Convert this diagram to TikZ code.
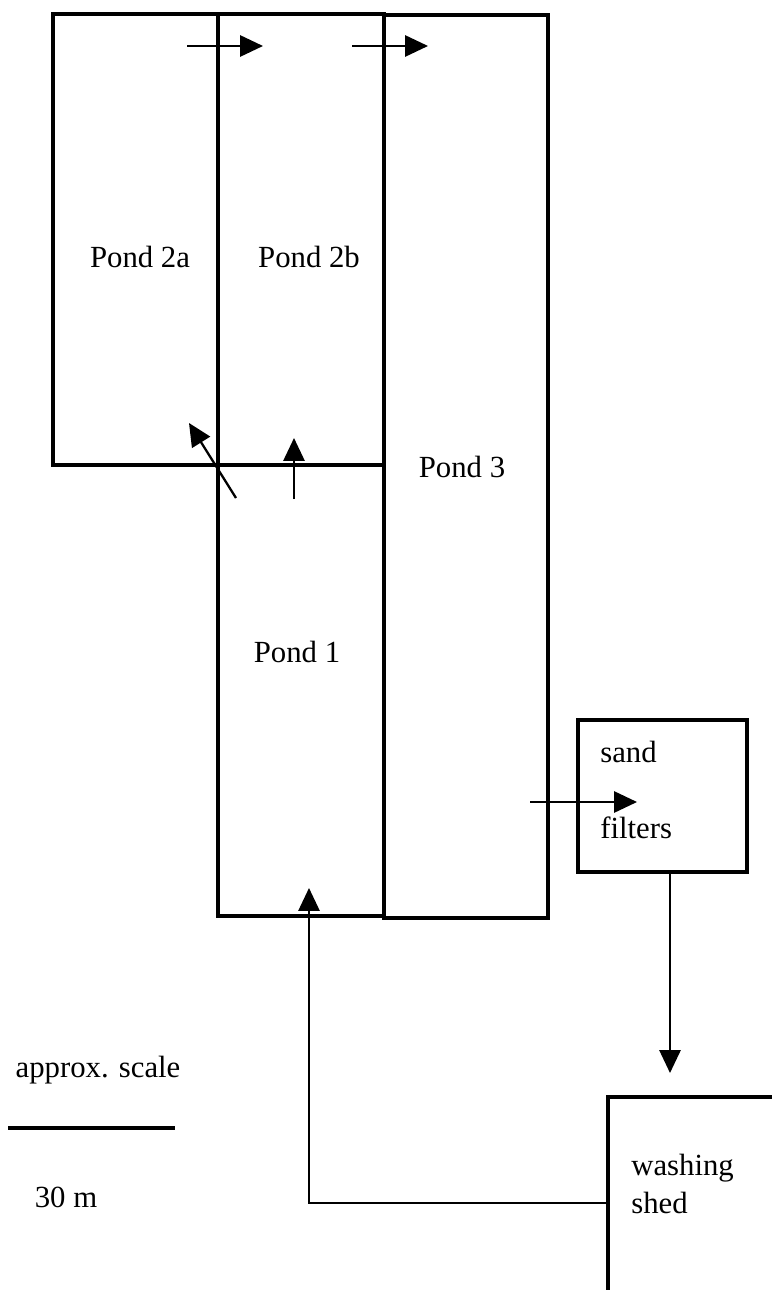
\documentclass[tikz,border=0pt]{standalone}
\usepackage{fontspec}
\setmainfont{Liberation Serif}
\usetikzlibrary{positioning,arrows.meta}

\begin{document}
\begin{tikzpicture}[x=0.02cm,y=-0.02cm,
  wall/.style={draw,line width=1.8pt},
  flow/.style={line width=1.3pt,-{Triangle[length=13pt,width=12pt]}},
  lbl/.style={font=\fontsize{17.5}{21}\selectfont,inner sep=0pt}]
\useasboundingbox (0,0) rectangle (772,1290);
% ponds
\draw[wall] (53,14) rectangle (384,465);
\draw[wall] (218,14) -- (218,916) -- (384,916);
\draw[wall] (384,15) rectangle (548,918);
\node[lbl] (p2a) at (140,257) {Pond 2a};
\node[lbl] (p2b) at (309,257) {Pond 2b};
\node[lbl] (p3) at (462,467) {Pond 3};
\node[lbl] (p1) at (297,652) {Pond 1};
% sand filters and shed
\node[wall,minimum width=3.38cm,minimum height=3.04cm] (sand) at (662.5,796) {};
\node[lbl,anchor=west] (sandt) at (600,752) {sand};
\node[lbl,anchor=west] (filt) at (600,828) {filters};
\draw[wall] (608,1290) -- (608,1097) -- (772,1097);
\node[lbl,anchor=west] (wash) at (631,1168) {washing};
\node[lbl,anchor=west] (shed) at (631,1203) {shed};
% flows
\coordinate (a1) at (187,46); \coordinate (a2) at (263,46);
\coordinate (b1) at (352,46); \coordinate (b2) at (428,46);
\coordinate (c1) at (236,498); \coordinate (c2) at (189,423);
\coordinate (d1) at (294,499); \coordinate (d2) at (294,438);
\coordinate (e1) at (530,802); \coordinate (e2) at (637,802);
\coordinate (f1) at (670,872); \coordinate (f2) at (670,1073);
\coordinate (g1) at (608,1203); \coordinate (g2) at (309,1203); \coordinate (g3) at (309,888);
\draw[flow] (a1) -- (a2);
\draw[flow] (b1) -- (b2);
\draw[flow] (c1) -- (c2);
\draw[flow] (d1) -- (d2);
\draw[flow] (e1) -- (e2);
\draw[flow] (f1) -- (f2);
\draw[flow] (g1) -- (g2) -- (g3);
% scale
\node[lbl] (apx) at (98,1070) {approx. scale};
\coordinate (s1) at (8,1128); \coordinate (s2) at (175,1128);
\draw[line width=1.8pt] (s1) -- (s2);
\node[lbl] (thirty) at (66,1197) {30 m};
\end{tikzpicture}
\end{document}
